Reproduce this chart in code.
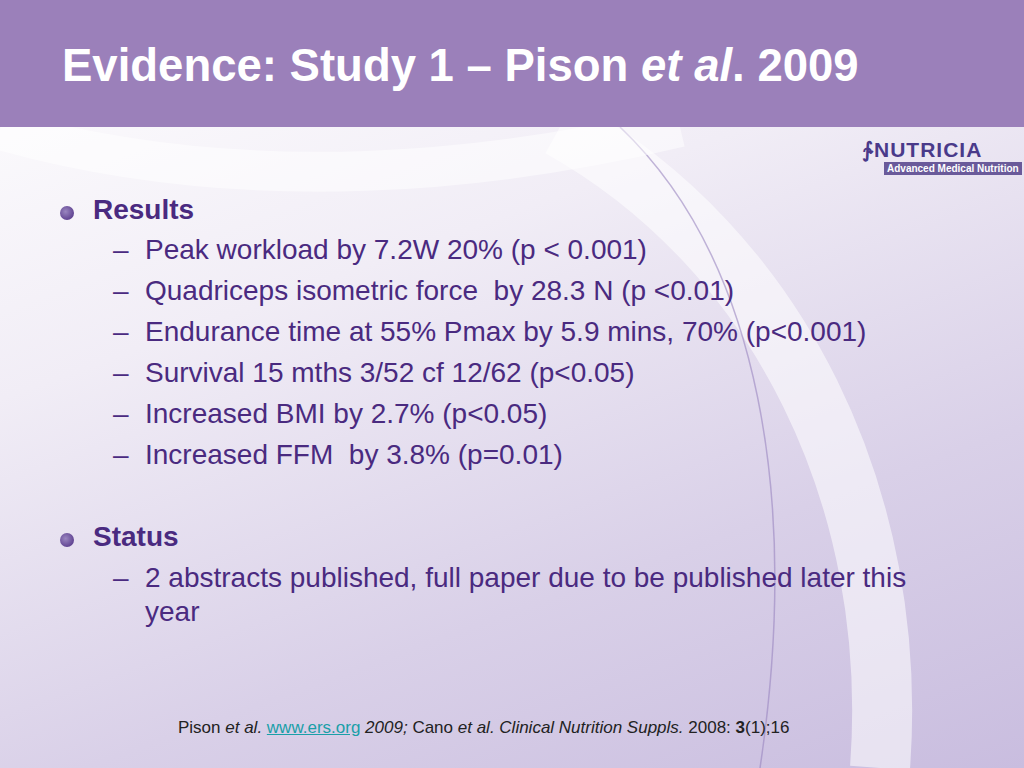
<!DOCTYPE html>
<html><head><meta charset="utf-8">
<script src="https://cdn.jsdelivr.net/npm/chart.js@4"></script>
<style>
html,body{margin:0;padding:0;width:1024px;height:768px;overflow:hidden;font-family:"Liberation Sans",Arial,sans-serif;}
#bg{position:absolute;left:0;top:0;width:1024px;height:768px;background:linear-gradient(160deg,#ffffff 0%,#f1edf6 35%,#d9d0e8 70%,#c9bddf 100%);}
#bar{position:absolute;left:0;top:0;width:1024px;height:127px;background:#9b80ba;}
#title{position:absolute;left:62px;top:40px;color:#fff;font-weight:bold;font-size:45.5px;white-space:nowrap;}
.t{position:absolute;color:#4a2a80;font-size:28px;white-space:pre;}
.h{font-weight:bold;}
.dot{position:absolute;width:14px;height:14px;border-radius:50%;background:radial-gradient(circle at 40% 40%,#9a86c0,#4a2a80);}
#foot{position:absolute;left:178px;top:718px;font-size:17px;color:#222;white-space:nowrap;}
#foot a{color:#1a9fa8;}
#logo{position:absolute;left:862px;top:138px;}
svg{position:absolute;left:0;top:0;}
</style></head><body>
<div id="bg"></div>
<svg width="1024" height="768">
<path d="M560,127 C780,250 900,500 880,768" stroke="#ffffff" stroke-width="60" fill="none" opacity="0.55"/>
<path d="M620,127 C760,260 800,500 760,768" stroke="#9a86c0" stroke-width="1.5" fill="none" opacity="0.6"/>
<path d="M0,130 C250,200 500,170 680,127" stroke="#ffffff" stroke-width="40" fill="none" opacity="0.5"/>
</svg>
<div id="bar"></div>
<div id="title">Evidence: Study 1 – Pison <i>et al</i>. 2009</div>
<div id="logo"><div style="color:#4a3a8a;font-weight:bold;font-size:21px;letter-spacing:1px">&#x2231;NUTRICIA</div><div style="background:#6a5a9a;color:#fff;font-size:10px;padding:1px 3px;margin-left:22px;font-weight:bold;white-space:nowrap">Advanced Medical Nutrition</div></div>
<div id="content"></div>
<div id="foot">Pison <i>et al.</i> <a href="#">www.ers.org</a> <i>2009;</i> Cano <i>et al. Clinical Nutrition Suppls.</i> 2008: <b>3</b>(1);16</div>
<script>
const headings=["Results","Status"];
const resultItems=["Peak workload by 7.2W 20% (p < 0.001)","Quadriceps isometric force  by 28.3 N (p <0.01)","Endurance time at 55% Pmax by 5.9 mins, 70% (p<0.001)","Survival 15 mths 3/52 cf 12/62 (p<0.05)","Increased BMI by 2.7% (p<0.05)","Increased FFM  by 3.8% (p=0.01)"];
const statusItems=["2 abstracts published, full paper due to be published later this","year"];
const c=document.getElementById('content');
function add(cls,text,x,y){const d=document.createElement('div');d.className=cls;d.textContent=text;d.style.left=x+'px';d.style.top=y+'px';c.appendChild(d);}
function dot(y){const d=document.createElement('div');d.className='dot';d.style.left='60px';d.style.top=y+'px';c.appendChild(d);}
dot(206);add('t h',headings[0],93,194);
resultItems.forEach((s,i)=>{add('t','–',113,234+i*41);add('t',s,145,234+i*41);});
dot(533);add('t h',headings[1],93,521);
add('t','–',113,562);add('t',statusItems[0],145,562);add('t',statusItems[1],145,596);
</script>
</body></html>
